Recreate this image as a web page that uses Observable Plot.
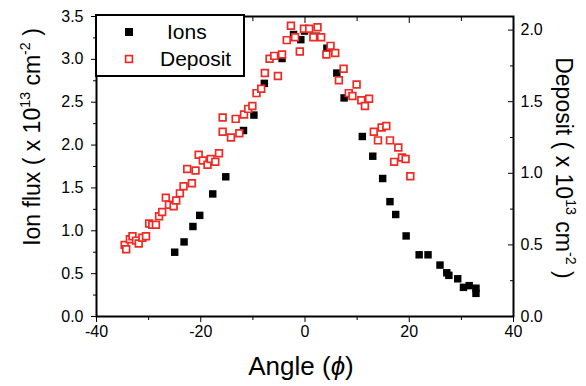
<!DOCTYPE html>
<html>
<head>
<meta charset="utf-8">
<script src="https://cdn.jsdelivr.net/npm/d3@7"></script>
<script src="https://cdn.jsdelivr.net/npm/@observablehq/plot@0.6"></script>
<style>
  body { margin: 0; background: #fff; }
  #chart { width: 586px; height: 386px; }
</style>
</head>
<body>
<div id="chart"></div>
<script>
// Ion flux (left axis, x 10^13 cm^-2) versus angle
const ionAngle = [-25.0,-23.2,-21.5,-20.2,-17.7,-15.2,-11.8,-9.8,-7.8,-4.4,-2.2,-0.8,-0.1,2.2,4.2,6.1,7.5,11.0,13.0,14.9,16.3,17.4,19.4,21.9,23.6,25.9,27.2,27.6,29.3,30.4,31.5,32.8,32.8];
const ionFlux  = [0.75,0.87,1.05,1.18,1.43,1.63,2.17,2.35,2.72,3.01,3.29,3.23,3.33,3.27,3.13,2.84,2.55,2.10,1.87,1.61,1.34,1.19,0.94,0.72,0.72,0.60,0.51,0.48,0.44,0.34,0.36,0.33,0.27];

// Deposit (right axis, x 10^13 cm^-2) versus angle
const depAngle = [-34.6,-34.3,-33.6,-33.1,-32.4,-31.9,-31.2,-30.5,-29.9,-29.3,
  -28.6,-28.0,-27.4,-26.7,-26.1,-25.2,-24.7,-24.0,-23.3,-22.6,
  -21.7,-21.0,-20.4,-19.6,-18.7,-18.1,-17.2,-16.5,-15.8,-15.8,
  -14.2,-13.3,-12.6,-11.7,-10.9,-10.1,-9.3,-8.4,-7.7,-6.8,
  -5.9,-5.2,-4.4,-3.5,-2.7,-1.9,-1.0,-0.2,0.8,1.6,
  2.4,3.1,4.1,4.9,5.8,6.5,7.4,8.4,9.1,9.9,
  10.8,11.5,12.3,13.2,14.0,14.7,15.6,16.3,17.1,17.9,
  18.6,19.3,20.2];
const depValue = [0.50,0.47,0.54,0.56,0.53,0.51,0.55,0.56,0.65,0.64,
  0.64,0.70,0.73,0.83,0.78,0.77,0.81,0.86,0.91,1.03,
  0.93,1.02,1.13,1.09,1.06,1.10,1.08,1.14,1.39,1.29,
  1.25,1.38,1.28,1.41,1.45,1.47,1.56,1.59,1.70,1.80,
  1.82,1.68,1.83,1.93,2.03,1.95,1.85,2.01,2.01,1.95,
  2.02,1.95,1.83,1.89,1.84,1.65,1.73,1.56,1.54,1.62,
  1.51,1.47,1.52,1.29,1.23,1.32,1.33,1.23,1.08,1.18,
  1.11,1.10,0.98];

const seriesNames = ["Ions", "Deposit"];
const xMajor = [-40, -20, 0, 20, 40];
const xMinor = [-30, -10, 10, 30];
const leftMajor = [0, 0.5, 1, 1.5, 2, 2.5, 3, 3.5];
const leftMinor = [0.25, 0.75, 1.25, 1.75, 2.25, 2.75, 3.25];
const rightMajor = [0, 0.5, 1, 1.5, 2];
const rightMinor = [0.25, 0.75, 1.25, 1.75];

// The right axis spans 0–2.095 over the same height as the left 0–3.5
const rightTop = 2.095;
const k = 3.5 / rightTop;

const ions = ionAngle.map((a, i) => ({angle: a, value: ionFlux[i]}));
const deposit = depAngle.map((a, i) => ({angle: a, value: depValue[i]}));

const red = "#ee2a24";
const font = "'Liberation Sans', Arial, Helvetica, sans-serif";

const plot = Plot.plot({
  width: 586,
  height: 386,
  marginLeft: 96,
  marginRight: 73,
  marginTop: 16,
  marginBottom: 70,
  x: {domain: [-40, 40]},
  y: {domain: [0, 3.5]},
  style: {fontFamily: font, fontSize: "16px", color: "#000", background: "#fff"},
  marks: [
    // bottom axis: labelled majors, short minors
    Plot.axisX({ticks: xMajor, tickSize: 6, tickPadding: 3, tickFormat: d => String(d), label: null}),
    Plot.axisX({ticks: xMinor, tickSize: 4, fill: "none", label: null}),
    // top mirror ticks, pointing inward
    Plot.axisX({anchor: "top", ticks: xMajor, tickSize: 6, dy: 6, fill: "none", label: null}),
    Plot.axisX({anchor: "top", ticks: xMinor, tickSize: 4, dy: 4, fill: "none", label: null}),
    // left axis: ion flux
    Plot.axisY({ticks: leftMajor, tickSize: 5, tickPadding: 8, tickFormat: d3.format(".1f"), label: null}),
    Plot.axisY({ticks: leftMinor, tickSize: 3, fill: "none", label: null}),
    // right axis: deposit, ticks pointing inward
    Plot.axisY({anchor: "right", ticks: rightMajor.map(v => v * k), tickSize: 6, dx: -6, fill: "none", label: null}),
    Plot.axisY({anchor: "right", ticks: rightMinor.map(v => v * k), tickSize: 4, dx: -4, fill: "none", label: null}),
    Plot.axisY({anchor: "right", ticks: rightMajor.map(v => v * k), tickSize: 0, tickPadding: 7,
      tickFormat: d => (d / k).toFixed(1), label: null}),
    Plot.frame({stroke: "#000", strokeWidth: 2}),
    Plot.dot(ions, {x: "angle", y: "value", symbol: "square", r: 4.2, fill: "#000"}),
    Plot.dot(deposit, {x: "angle", y: d => d.value * k, symbol: "square", r: 3.8,
      fill: "#fff", stroke: red, strokeWidth: 1.7})
  ]
});

document.getElementById("chart").appendChild(plot);

const svg = d3.select(plot);

// Axis titles with superscript exponents
function title(parts, transform, size) {
  const t = svg.append("text")
    .attr("transform", transform)
    .attr("text-anchor", "middle")
    .attr("font-family", font)
    .attr("font-size", size)
    .attr("fill", "#000");
  parts.forEach(p => {
    const s = t.append("tspan").text(p.text);
    if (p.sup) s.attr("font-size", size * 0.62).attr("dy", -size * 0.45);
    else if (p.after) s.attr("dy", size * 0.45);
    if (p.italic) s.attr("font-style", "italic");
  });
}

title([
  {text: "Ion flux ( x 10"}, {text: "13", sup: true}, {text: " cm", after: true},
  {text: "-2", sup: true}, {text: " )", after: true}
], "translate(40,137) rotate(-90)", 23);

title([
  {text: "Deposit ( x 10"}, {text: "13", sup: true}, {text: " cm", after: true},
  {text: "-2", sup: true}, {text: " )", after: true}
], "translate(556,168) rotate(90)", 23);

title([
  {text: "Angle ("}, {text: "\u03D5", italic: true}, {text: ")"}
], "translate(301,375)", 26);

// Legend box in the upper-left corner of the frame
const legend = svg.append("g").attr("text-anchor", "start");
legend.append("rect")
  .attr("x", 96).attr("y", 15).attr("width", 148).attr("height", 61)
  .attr("fill", "#fff").attr("stroke", "#000").attr("stroke-width", 2);
legend.append("rect")
  .attr("x", 125).attr("y", 28).attr("width", 8).attr("height", 8)
  .attr("fill", "#000");
legend.append("rect")
  .attr("x", 125.6).attr("y", 55.6).attr("width", 6.8).attr("height", 6.8)
  .attr("fill", "#fff").attr("stroke", red).attr("stroke-width", 1.7);
legend.append("text")
  .attr("x", 167).attr("y", 39).attr("font-family", font).attr("font-size", 21)
  .attr("text-anchor", "start")
  .text(seriesNames[0]);
legend.append("text")
  .attr("x", 160).attr("y", 66).attr("font-family", font).attr("font-size", 21)
  .attr("text-anchor", "start")
  .text(seriesNames[1]);
</script>
</body>
</html>
